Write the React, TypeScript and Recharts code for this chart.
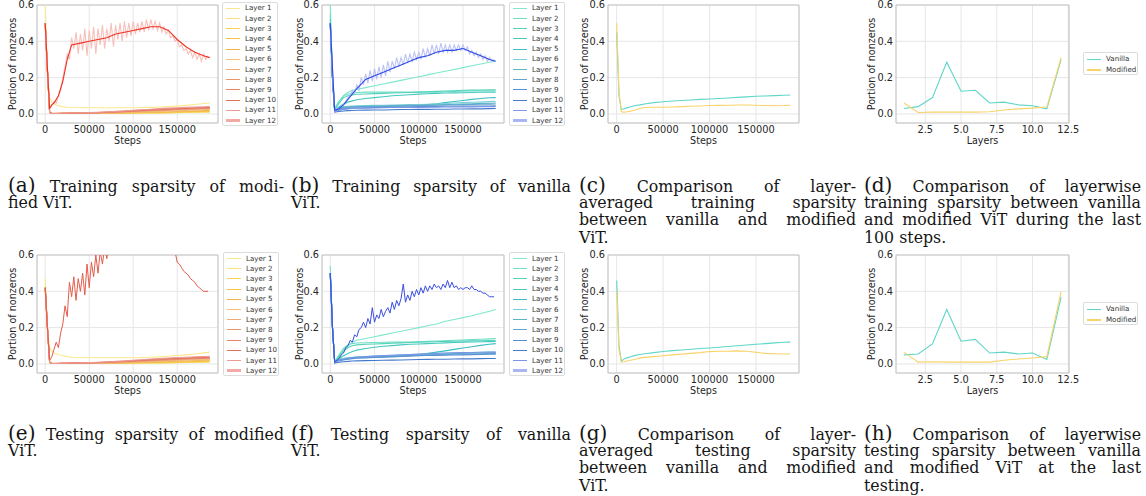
import { CartesianGrid, Line, LineChart, ReferenceArea, XAxis, YAxis } from 'recharts'

// x grids
const steps = [0, 2500, 5000, 7500, 10000, 15000, 20000, 25000, 30000, 40000, 50000, 60000, 70000, 80000, 90000, 100000, 110000, 120000, 130000, 140000, 150000, 160000, 170000, 180000, 187000]
const rawSteps = [
  0, 2500, 5000, 7500, 10000, 12500, 15000, 17500, 20000, 22500, 25000, 27500, 30000, 32500, 35000, 37500,
  40000, 42500, 45000, 47500, 50000, 52500, 55000, 57500, 60000, 62500, 65000, 67500, 70000, 72500, 75000,
  77500, 80000, 82500, 85000, 87500, 90000, 92500, 95000, 97500, 100000, 102500, 105000, 107500, 110000,
  112500, 115000, 117500, 120000, 122500, 125000, 127500, 130000, 132500, 135000, 137500, 140000, 142500,
  145000, 147500, 150000, 152500, 155000, 157500, 160000, 162500, 165000, 167500, 170000, 172500, 175000,
  177500, 180000, 182500, 185000,
]
const layerNums = [1, 2, 3, 4, 5, 6, 7, 8, 9, 10, 11, 12]
const stepTicks = [0, 50000, 100000, 150000]
const layerTicks = [2.5, 5, 7.5, 10, 12.5]
const yTicks = [0, 0.2, 0.4, 0.6]
const layerNames = ['Layer 1', 'Layer 2', 'Layer 3', 'Layer 4', 'Layer 5', 'Layer 6', 'Layer 7', 'Layer 8', 'Layer 9', 'Layer 10', 'Layer 11', 'Layer 12']

// (a) training sparsity, modified ViT — layers 1..11
const trainModified = [
  [0.62, 0.2, 0.09, 0.065, 0.055, 0.045, 0.04, 0.037, 0.035, 0.034, 0.034, 0.034, 0.034, 0.034, 0.034, 0.034, 0.035, 0.036, 0.038, 0.04, 0.043, 0.047, 0.052, 0.057, 0.06],
  [0.5, 0.24, 0.008, 0.004, 0.003, 0.003, 0.003, 0.003, 0.003, 0.003, 0.003, 0.003, 0.003, 0.004, 0.004, 0.004, 0.005, 0.005, 0.006, 0.006, 0.007, 0.008, 0.009, 0.01, 0.01],
  [0.5, 0.24, 0.008, 0.003, 0.002, 0.002, 0.002, 0.002, 0.002, 0.002, 0.003, 0.003, 0.003, 0.003, 0.004, 0.004, 0.005, 0.006, 0.006, 0.007, 0.008, 0.009, 0.01, 0.011, 0.012],
  [0.5, 0.24, 0.008, 0.003, 0.002, 0.002, 0.002, 0.002, 0.003, 0.003, 0.003, 0.004, 0.004, 0.005, 0.005, 0.006, 0.007, 0.008, 0.009, 0.01, 0.011, 0.012, 0.013, 0.014, 0.015],
  [0.5, 0.24, 0.008, 0.003, 0.002, 0.002, 0.002, 0.003, 0.003, 0.003, 0.004, 0.004, 0.005, 0.006, 0.007, 0.008, 0.009, 0.01, 0.011, 0.012, 0.014, 0.015, 0.017, 0.018, 0.02],
  [0.5, 0.24, 0.008, 0.003, 0.002, 0.002, 0.003, 0.003, 0.003, 0.004, 0.004, 0.005, 0.006, 0.007, 0.008, 0.009, 0.011, 0.012, 0.014, 0.015, 0.017, 0.019, 0.021, 0.023, 0.025],
  [0.5, 0.24, 0.008, 0.003, 0.002, 0.002, 0.003, 0.003, 0.004, 0.004, 0.005, 0.006, 0.007, 0.009, 0.01, 0.012, 0.014, 0.016, 0.018, 0.02, 0.022, 0.024, 0.026, 0.028, 0.029],
  [0.5, 0.24, 0.008, 0.003, 0.002, 0.002, 0.003, 0.003, 0.004, 0.005, 0.006, 0.007, 0.008, 0.01, 0.012, 0.014, 0.016, 0.018, 0.02, 0.022, 0.024, 0.026, 0.028, 0.03, 0.031],
  [0.5, 0.24, 0.008, 0.003, 0.002, 0.002, 0.003, 0.004, 0.004, 0.005, 0.006, 0.007, 0.009, 0.011, 0.013, 0.016, 0.019, 0.021, 0.023, 0.025, 0.027, 0.029, 0.031, 0.032, 0.033],
  [0.5, 0.24, 0.008, 0.003, 0.002, 0.003, 0.003, 0.004, 0.005, 0.006, 0.007, 0.008, 0.01, 0.012, 0.015, 0.018, 0.021, 0.024, 0.026, 0.028, 0.03, 0.032, 0.034, 0.035, 0.036],
  [0.5, 0.24, 0.008, 0.003, 0.003, 0.003, 0.004, 0.004, 0.005, 0.006, 0.007, 0.009, 0.011, 0.014, 0.017, 0.02, 0.023, 0.026, 0.029, 0.032, 0.034, 0.036, 0.038, 0.039, 0.04],
]
const trainModL12Raw = [
  0.5, 0.25, 0.03, 0.05, 0.07, 0.06, 0.1, 0.13, 0.2, 0.26, 0.33, 0.3, 0.42, 0.36, 0.45, 0.33,
  0.44, 0.35, 0.47, 0.32, 0.46, 0.36, 0.48, 0.33, 0.47, 0.38, 0.49, 0.36, 0.47, 0.4, 0.5,
  0.37, 0.49, 0.41, 0.5, 0.4, 0.51, 0.42, 0.5, 0.43, 0.51, 0.44, 0.5, 0.45, 0.51,
  0.45, 0.52, 0.46, 0.52, 0.47, 0.51, 0.46, 0.5, 0.45, 0.48, 0.44, 0.46, 0.42,
  0.43, 0.4, 0.41, 0.37, 0.38, 0.35, 0.36, 0.33, 0.35, 0.31, 0.34, 0.3, 0.33,
  0.29, 0.33, 0.3, 0.32,
]
const trainModL12Smooth = [0.5, 0.25, 0.03, 0.05, 0.06, 0.1, 0.18, 0.3, 0.38, 0.39, 0.4, 0.41, 0.42, 0.44, 0.45, 0.46, 0.47, 0.48, 0.48, 0.46, 0.41, 0.37, 0.34, 0.32, 0.31]

// (b) training sparsity, vanilla ViT — layers 1..11
const trainVanilla = [
  [0.6, 0.2, 0.03, 0.05, 0.07, 0.1, 0.12, 0.13, 0.135, 0.145, 0.155, 0.165, 0.175, 0.185, 0.195, 0.205, 0.215, 0.225, 0.235, 0.245, 0.255, 0.265, 0.275, 0.285, 0.29],
  [0.55, 0.2, 0.03, 0.05, 0.07, 0.1, 0.11, 0.115, 0.118, 0.12, 0.12, 0.12, 0.12, 0.12, 0.12, 0.12, 0.12, 0.12, 0.122, 0.124, 0.125, 0.126, 0.127, 0.128, 0.128],
  [0.52, 0.2, 0.02, 0.04, 0.06, 0.09, 0.1, 0.105, 0.108, 0.11, 0.112, 0.113, 0.115, 0.117, 0.118, 0.12, 0.122, 0.124, 0.126, 0.128, 0.13, 0.131, 0.132, 0.133, 0.133],
  [0.5, 0.2, 0.02, 0.03, 0.04, 0.055, 0.065, 0.072, 0.078, 0.085, 0.09, 0.095, 0.1, 0.103, 0.106, 0.109, 0.111, 0.113, 0.115, 0.116, 0.117, 0.118, 0.119, 0.12, 0.12],
  [0.5, 0.2, 0.02, 0.025, 0.03, 0.035, 0.038, 0.04, 0.04, 0.04, 0.04, 0.04, 0.042, 0.044, 0.046, 0.048, 0.052, 0.056, 0.062, 0.068, 0.074, 0.08, 0.085, 0.089, 0.09],
  [0.5, 0.2, 0.02, 0.03, 0.035, 0.04, 0.042, 0.044, 0.045, 0.046, 0.047, 0.048, 0.049, 0.05, 0.051, 0.052, 0.053, 0.055, 0.057, 0.06, 0.062, 0.064, 0.066, 0.068, 0.07],
  [0.5, 0.2, 0.02, 0.028, 0.032, 0.036, 0.038, 0.04, 0.041, 0.042, 0.043, 0.044, 0.045, 0.046, 0.047, 0.048, 0.049, 0.05, 0.051, 0.053, 0.055, 0.056, 0.058, 0.059, 0.06],
  [0.5, 0.2, 0.015, 0.022, 0.028, 0.033, 0.036, 0.038, 0.039, 0.04, 0.041, 0.042, 0.043, 0.044, 0.045, 0.046, 0.047, 0.048, 0.049, 0.05, 0.051, 0.052, 0.053, 0.054, 0.055],
  [0.5, 0.2, 0.015, 0.02, 0.024, 0.028, 0.03, 0.032, 0.033, 0.034, 0.035, 0.036, 0.037, 0.038, 0.039, 0.04, 0.04, 0.041, 0.042, 0.042, 0.043, 0.043, 0.044, 0.044, 0.045],
  [0.5, 0.2, 0.01, 0.012, 0.014, 0.016, 0.018, 0.019, 0.02, 0.021, 0.022, 0.022, 0.023, 0.024, 0.024, 0.025, 0.025, 0.026, 0.026, 0.027, 0.027, 0.028, 0.028, 0.029, 0.03],
  [0.5, 0.2, 0.012, 0.016, 0.02, 0.025, 0.028, 0.03, 0.031, 0.032, 0.033, 0.034, 0.035, 0.035, 0.036, 0.036, 0.037, 0.037, 0.038, 0.038, 0.039, 0.039, 0.04, 0.04, 0.04],
]
const trainVanL12Raw = [
  0.5, 0.25, 0.02, 0.03, 0.03, 0.045, 0.05, 0.07, 0.09, 0.1, 0.13, 0.11, 0.16, 0.13, 0.2, 0.16,
  0.22, 0.17, 0.24, 0.18, 0.25, 0.19, 0.26, 0.2, 0.27, 0.21, 0.29, 0.23, 0.29, 0.25, 0.31,
  0.26, 0.31, 0.27, 0.33, 0.28, 0.33, 0.29, 0.34, 0.3, 0.34, 0.3, 0.36, 0.31, 0.36,
  0.32, 0.38, 0.33, 0.38, 0.33, 0.39, 0.34, 0.38, 0.34, 0.38, 0.34, 0.38, 0.35,
  0.38, 0.35, 0.38, 0.35, 0.37, 0.33, 0.35, 0.32, 0.34, 0.31, 0.33, 0.3, 0.32,
  0.29, 0.31, 0.29, 0.3,
]
const trainVanL12Smooth = [0.5, 0.25, 0.02, 0.025, 0.03, 0.05, 0.08, 0.11, 0.14, 0.19, 0.21, 0.23, 0.25, 0.27, 0.29, 0.31, 0.32, 0.34, 0.35, 0.35, 0.36, 0.34, 0.32, 0.3, 0.29]

// (c) layer-averaged training sparsity
const trainAvgVanilla = [0.45, 0.1, 0.025, 0.027, 0.032, 0.04, 0.046, 0.05, 0.055, 0.062, 0.067, 0.071, 0.074, 0.077, 0.08, 0.082, 0.085, 0.088, 0.091, 0.094, 0.097, 0.099, 0.101, 0.103, 0.104]
const trainAvgModified = [0.5, 0.12, 0.012, 0.01, 0.011, 0.015, 0.022, 0.03, 0.035, 0.037, 0.037, 0.038, 0.04, 0.042, 0.044, 0.046, 0.047, 0.048, 0.049, 0.049, 0.048, 0.046, 0.045, 0.046, 0.048]

// (d) layerwise training sparsity, last 100 steps
const lastTrainVanilla = [0.03, 0.04, 0.09, 0.285, 0.125, 0.13, 0.06, 0.065, 0.05, 0.045, 0.028, 0.3]
const lastTrainModified = [0.06, 0.008, 0.01, 0.01, 0.01, 0.01, 0.012, 0.022, 0.028, 0.032, 0.038, 0.31]

// (e) testing sparsity, modified ViT — layers 1..11
const testModified = [
  [0.47, 0.2, 0.09, 0.07, 0.06, 0.05, 0.045, 0.04, 0.037, 0.035, 0.034, 0.034, 0.034, 0.034, 0.034, 0.034, 0.035, 0.037, 0.039, 0.042, 0.046, 0.05, 0.055, 0.061, 0.065],
  [0.42, 0.2, 0.008, 0.004, 0.003, 0.003, 0.003, 0.003, 0.003, 0.003, 0.003, 0.003, 0.003, 0.004, 0.004, 0.004, 0.005, 0.005, 0.006, 0.006, 0.007, 0.008, 0.009, 0.01, 0.01],
  [0.42, 0.2, 0.008, 0.003, 0.002, 0.002, 0.002, 0.002, 0.002, 0.002, 0.003, 0.003, 0.003, 0.003, 0.004, 0.004, 0.005, 0.006, 0.006, 0.007, 0.008, 0.009, 0.01, 0.011, 0.012],
  [0.42, 0.2, 0.008, 0.003, 0.002, 0.002, 0.002, 0.002, 0.003, 0.003, 0.003, 0.004, 0.004, 0.005, 0.005, 0.006, 0.007, 0.008, 0.009, 0.01, 0.011, 0.012, 0.013, 0.014, 0.016],
  [0.42, 0.2, 0.008, 0.003, 0.002, 0.002, 0.002, 0.003, 0.003, 0.003, 0.004, 0.004, 0.005, 0.006, 0.007, 0.008, 0.009, 0.01, 0.011, 0.013, 0.015, 0.016, 0.018, 0.02, 0.021],
  [0.42, 0.2, 0.008, 0.003, 0.002, 0.002, 0.003, 0.003, 0.003, 0.004, 0.004, 0.005, 0.006, 0.007, 0.008, 0.009, 0.011, 0.012, 0.014, 0.016, 0.018, 0.02, 0.022, 0.024, 0.025],
  [0.42, 0.2, 0.008, 0.003, 0.002, 0.002, 0.003, 0.003, 0.004, 0.004, 0.005, 0.006, 0.007, 0.009, 0.01, 0.012, 0.014, 0.016, 0.018, 0.02, 0.022, 0.024, 0.026, 0.028, 0.03],
  [0.42, 0.2, 0.008, 0.003, 0.002, 0.002, 0.003, 0.003, 0.004, 0.005, 0.006, 0.007, 0.008, 0.01, 0.012, 0.014, 0.016, 0.018, 0.02, 0.022, 0.025, 0.027, 0.029, 0.031, 0.032],
  [0.42, 0.2, 0.008, 0.003, 0.002, 0.002, 0.003, 0.004, 0.004, 0.005, 0.006, 0.007, 0.009, 0.011, 0.013, 0.016, 0.019, 0.021, 0.023, 0.026, 0.028, 0.03, 0.032, 0.033, 0.034],
  [0.42, 0.2, 0.008, 0.003, 0.002, 0.003, 0.003, 0.004, 0.005, 0.006, 0.007, 0.008, 0.01, 0.012, 0.015, 0.018, 0.021, 0.024, 0.027, 0.029, 0.031, 0.033, 0.035, 0.036, 0.037],
  [0.42, 0.2, 0.008, 0.003, 0.003, 0.003, 0.004, 0.004, 0.005, 0.006, 0.007, 0.009, 0.011, 0.014, 0.017, 0.02, 0.023, 0.027, 0.03, 0.033, 0.035, 0.037, 0.039, 0.041, 0.042],
]
const testModL12Raw = [
  0.42, 0.2, 0.02, 0.04, 0.08, 0.12, 0.09, 0.17, 0.22, 0.32, 0.26, 0.45, 0.37, 0.48, 0.35, 0.47,
  0.4, 0.5, 0.38, 0.55, 0.42, 0.56, 0.48, 0.6, 0.5, 0.62, 0.55, 0.64, 0.58, 0.66, 0.61,
  0.68, 0.63, 0.7, 0.65, 0.72, 0.67, 0.73, 0.69, 0.74, 0.7, 0.75, 0.71, 0.75, 0.72,
  0.76, 0.72, 0.75, 0.71, 0.74, 0.7, 0.72, 0.68, 0.7, 0.66, 0.67, 0.63, 0.64,
  0.6, 0.62, 0.56, 0.55, 0.53, 0.51, 0.5, 0.49, 0.47, 0.46, 0.45, 0.43, 0.42,
  0.41, 0.4, 0.4, 0.4,
]

// (f) testing sparsity, vanilla ViT — layers 1..11
const testVanilla = [
  [0.54, 0.2, 0.01, 0.03, 0.05, 0.08, 0.1, 0.12, 0.13, 0.14, 0.15, 0.16, 0.17, 0.18, 0.19, 0.2, 0.21, 0.22, 0.235, 0.245, 0.255, 0.265, 0.278, 0.29, 0.3],
  [0.5, 0.2, 0.01, 0.03, 0.05, 0.085, 0.105, 0.112, 0.115, 0.117, 0.118, 0.119, 0.12, 0.12, 0.121, 0.122, 0.124, 0.126, 0.128, 0.13, 0.132, 0.134, 0.136, 0.138, 0.14],
  [0.5, 0.2, 0.01, 0.025, 0.04, 0.07, 0.09, 0.1, 0.105, 0.108, 0.11, 0.112, 0.114, 0.116, 0.118, 0.12, 0.121, 0.122, 0.124, 0.125, 0.126, 0.127, 0.128, 0.129, 0.13],
  [0.5, 0.2, 0.01, 0.02, 0.03, 0.045, 0.058, 0.068, 0.076, 0.085, 0.092, 0.097, 0.101, 0.105, 0.108, 0.11, 0.112, 0.114, 0.116, 0.118, 0.12, 0.121, 0.122, 0.123, 0.124],
  [0.5, 0.2, 0.01, 0.02, 0.025, 0.03, 0.033, 0.035, 0.036, 0.037, 0.038, 0.04, 0.042, 0.045, 0.048, 0.052, 0.058, 0.065, 0.072, 0.08, 0.088, 0.095, 0.102, 0.108, 0.112],
  [0.5, 0.2, 0.01, 0.02, 0.025, 0.03, 0.034, 0.037, 0.039, 0.041, 0.043, 0.045, 0.047, 0.049, 0.051, 0.053, 0.055, 0.057, 0.059, 0.061, 0.062, 0.063, 0.064, 0.065, 0.066],
  [0.5, 0.2, 0.01, 0.018, 0.022, 0.027, 0.031, 0.034, 0.036, 0.038, 0.04, 0.042, 0.044, 0.046, 0.048, 0.05, 0.052, 0.054, 0.055, 0.057, 0.058, 0.059, 0.06, 0.061, 0.062],
  [0.5, 0.2, 0.01, 0.016, 0.02, 0.025, 0.029, 0.032, 0.034, 0.036, 0.038, 0.04, 0.042, 0.044, 0.046, 0.048, 0.049, 0.05, 0.052, 0.053, 0.054, 0.055, 0.056, 0.057, 0.058],
  [0.5, 0.2, 0.01, 0.015, 0.018, 0.022, 0.026, 0.029, 0.031, 0.033, 0.035, 0.037, 0.039, 0.041, 0.043, 0.045, 0.046, 0.047, 0.048, 0.049, 0.05, 0.051, 0.052, 0.053, 0.054],
  [0.5, 0.2, 0.005, 0.008, 0.01, 0.012, 0.014, 0.016, 0.017, 0.018, 0.019, 0.02, 0.021, 0.022, 0.023, 0.024, 0.025, 0.026, 0.026, 0.027, 0.028, 0.028, 0.029, 0.03, 0.03],
  [0.5, 0.2, 0.01, 0.016, 0.02, 0.026, 0.03, 0.034, 0.037, 0.04, 0.043, 0.046, 0.048, 0.05, 0.052, 0.054, 0.056, 0.058, 0.06, 0.061, 0.062, 0.063, 0.064, 0.065, 0.065],
]
const testVanL12Raw = [
  0.5, 0.2, 0.01, 0.02, 0.03, 0.05, 0.06, 0.09, 0.1, 0.13, 0.12, 0.16, 0.15, 0.19, 0.2, 0.23,
  0.2, 0.25, 0.22, 0.31, 0.23, 0.27, 0.25, 0.3, 0.26, 0.29, 0.31, 0.28, 0.34, 0.3, 0.35,
  0.32, 0.36, 0.44, 0.34, 0.38, 0.35, 0.4, 0.37, 0.41, 0.38, 0.42, 0.39, 0.43, 0.4,
  0.43, 0.41, 0.44, 0.42, 0.43, 0.41, 0.44, 0.42, 0.46, 0.42, 0.45, 0.42, 0.43,
  0.41, 0.42, 0.41, 0.42, 0.42, 0.41, 0.43, 0.41, 0.41, 0.4, 0.4, 0.39, 0.39,
  0.38, 0.37, 0.37, 0.37,
]

// (g) layer-averaged testing sparsity
const testAvgVanilla = [0.46, 0.1, 0.015, 0.025, 0.032, 0.04, 0.047, 0.052, 0.056, 0.062, 0.068, 0.073, 0.077, 0.081, 0.085, 0.088, 0.092, 0.096, 0.1, 0.104, 0.108, 0.112, 0.116, 0.119, 0.12]
const testAvgModified = [0.4, 0.08, 0.01, 0.012, 0.015, 0.02, 0.026, 0.032, 0.036, 0.04, 0.045, 0.05, 0.054, 0.058, 0.062, 0.068, 0.07, 0.07, 0.072, 0.07, 0.064, 0.058, 0.056, 0.055, 0.055]

// (h) layerwise testing sparsity, last testing
const lastTestVanilla = [0.05, 0.055, 0.11, 0.3, 0.125, 0.135, 0.06, 0.065, 0.055, 0.06, 0.025, 0.37]
const lastTestModified = [0.065, 0.01, 0.012, 0.01, 0.01, 0.01, 0.01, 0.02, 0.027, 0.033, 0.04, 0.4]

const warmColors = ['#fbe88e', '#f9e27a', '#f7d452', '#f5c445', '#f2b24a', '#f4c07a', '#efac78', '#ea9770', '#e6836a', '#e27260', '#ee9a94']
const warmLegend = [...warmColors, '#f3aaa5']
const coolColors = ['#7fe6cc', '#6fdfc4', '#52d2b9', '#45c9c0', '#3dbcc4', '#78cfd9', '#58b8c8', '#64a4cf', '#5591d4', '#4479cc', '#7c95e6']
const coolLegend = [...coolColors, '#aab5f3']
const vanillaColor = '#5fd6c8'
const modifiedColor = '#f8d36a'

const YW = 34
const MT = 6
const MR = 16
const XH = 16
const Y_DOMAIN: [number, number] = [-0.05, 0.6]
const STEP_DOMAIN: [number, number] = [-9350, 196350]
const LAYER_DOMAIN: [number, number] = [0.45, 12.55]
const tickStyle = { fontSize: 9.8, fill: '#262626', fontFamily: 'DejaVu Sans' }
const labelFont = { fontSize: 9.6, color: '#262626', fontFamily: 'DejaVu Sans' }

const zip = (xs: number[], ys: number[]) => ys.map((y, i) => ({ x: xs[i], y }))

interface Series {
  key: string
  data: { x: number; y: number }[]
  color: string
  width?: number
}

interface PanelProps {
  box: [number, number, number, number]
  labelX: number
  layers?: boolean
  series: Series[]
}

function Panel({ box, labelX, layers = false, series }: PanelProps) {
  const [x0, y0, x1, y1] = box
  const w = x1 - x0
  const h = y1 - y0
  const xDomain = layers ? LAYER_DOMAIN : STEP_DOMAIN
  return (
    <>
      <div style={{ position: 'absolute', left: x0 - YW, top: y0 - MT }}>
        <LineChart width={w + YW + MR} height={h + MT + XH} margin={{ top: MT, right: MR, left: 0, bottom: 0 }}>
          <CartesianGrid stroke="#e6e6e6" strokeWidth={1} />
          <XAxis
            type="number"
            dataKey="x"
            domain={xDomain}
            ticks={layers ? layerTicks : stepTicks}
            allowDataOverflow
            interval={0}
            height={XH}
            tickSize={0}
            tickMargin={3}
            axisLine={false}
            tick={tickStyle}
            tickFormatter={(v: number) => (layers ? v.toFixed(1) : String(v))}
          />
          <YAxis
            type="number"
            domain={Y_DOMAIN}
            ticks={yTicks}
            allowDataOverflow
            interval={0}
            width={YW}
            tickSize={0}
            tickMargin={3}
            axisLine={false}
            tick={tickStyle}
            tickFormatter={(v: number) => v.toFixed(1)}
          />
          {series.map((s) => (
            <Line
              key={s.key}
              data={s.data}
              dataKey="y"
              type="linear"
              stroke={s.color}
              strokeWidth={s.width ?? 1.1}
              dot={false}
              activeDot={false}
              isAnimationActive={false}
            />
          ))}
          <ReferenceArea
            x1={xDomain[0]}
            x2={xDomain[1]}
            y1={Y_DOMAIN[0]}
            y2={Y_DOMAIN[1]}
            fill="none"
            fillOpacity={0}
            stroke="#c4c4c4"
            strokeWidth={1}
            ifOverflow="visible"
          />
        </LineChart>
      </div>
      <div
        style={{
          ...labelFont,
          position: 'absolute',
          left: labelX - 70,
          top: (y0 + y1) / 2 - 6,
          width: 140,
          height: 12,
          lineHeight: '12px',
          textAlign: 'center',
          transform: 'rotate(-90deg)',
          whiteSpace: 'nowrap',
        }}
      >
        Portion of nonzeros
      </div>
      <div
        style={{
          ...labelFont,
          position: 'absolute',
          left: (x0 + x1) / 2 - 40,
          top: y1 + 12.5,
          width: 80,
          height: 10,
          lineHeight: '10px',
          textAlign: 'center',
        }}
      >
        {layers ? 'Layers' : 'Steps'}
      </div>
    </>
  )
}

interface LegendProps {
  left: number
  top: number
  width: number
  height: number
  names: string[]
  colors: string[]
  thickLast?: boolean
  gap: number
  firstY: number
}

function LegendBox({ left, top, width, height, names, colors, thickLast = false, gap, firstY }: LegendProps) {
  return (
    <div
      style={{
        position: 'absolute',
        left,
        top,
        width,
        height,
        boxSizing: 'border-box',
        border: '1px solid #dcdcdc',
        borderRadius: 2,
        background: '#fff',
      }}
    >
      {names.map((n, i) => {
        const thick = thickLast && i === names.length - 1
        return (
          <div key={n}>
            <div
              style={{
                position: 'absolute',
                left: 3,
                top: firstY + i * gap - (thick ? 1.5 : 0.6),
                width: 14,
                height: thick ? 3 : 1.2,
                background: colors[i],
              }}
            />
            <div
              style={{
                position: 'absolute',
                left: 22,
                top: firstY + i * gap - 5,
                height: 10,
                lineHeight: '10px',
                fontSize: 7.1,
                fontFamily: 'DejaVu Sans',
                color: '#333',
                whiteSpace: 'nowrap',
              }}
            >
              {n}
            </div>
          </div>
        )
      })}
    </div>
  )
}

interface CaptionProps {
  left: number
  top: number
  width: number
  label: string
  lines: string[]
}

const LINE_GAP = 17.6

function Caption({ left, top, width, label, lines }: CaptionProps) {
  return (
    <div
      style={{
        position: 'absolute',
        left,
        top,
        width,
        fontFamily: '"DejaVu Serif", serif',
        fontSize: 15.8,
        color: '#151515',
      }}
    >
      {lines.map((ln, i) => (
        <div
          key={i}
          style={{
            position: 'absolute',
            left: 0,
            top: i * LINE_GAP,
            width,
            height: 18,
            lineHeight: '18px',
            textAlign: 'justify',
            textAlignLast: i < lines.length - 1 ? 'justify' : 'left',
          }}
        >
          {i === 0 ? (
            <>
              <span
                style={{
                  display: 'inline-block',
                  height: 18,
                  fontSize: 20,
                  lineHeight: '18px',
                  verticalAlign: 'baseline',
                }}
              >
                {label}
              </span>{' '}
              {ln}
            </>
          ) : (
            ln
          )}
        </div>
      ))}
    </div>
  )
}

const layerSeries = (rows: number[][], colors: string[], prefix: string): Series[] =>
  rows.map((r, i) => ({ key: `${prefix}${i}`, data: zip(steps, r), color: colors[i] }))

export default function App() {
  return (
    <div style={{ position: 'absolute', left: 0, top: 0, width: 1146, height: 496, background: '#fff', overflow: 'hidden' }}>
      <Panel
        box={[37, 5, 218, 123]}
        labelX={12.5}
        series={[
          ...layerSeries(trainModified, warmColors, 'a'),
          { key: 'a12r', data: zip(rawSteps, trainModL12Raw), color: '#f7c0bb', width: 1.1 },
          { key: 'a12s', data: zip(steps, trainModL12Smooth), color: '#ee3325', width: 1.1 },
        ]}
      />
      <LegendBox left={222} top={2} width={56} height={124} names={layerNames} colors={warmLegend} thickLast gap={10.2} firstY={5.3} />

      <Panel
        box={[322, 5, 504, 123]}
        labelX={300}
        series={[
          ...layerSeries(trainVanilla, coolColors, 'b'),
          { key: 'b12r', data: zip(rawSteps, trainVanL12Raw), color: '#bcc2f5', width: 1.1 },
          { key: 'b12s', data: zip(steps, trainVanL12Smooth), color: '#2c48e6', width: 1.1 },
        ]}
      />
      <LegendBox left={509} top={2} width={56} height={124} names={layerNames} colors={coolLegend} thickLast gap={10.2} firstY={5.3} />

      <Panel
        box={[608, 5, 799, 123]}
        labelX={585}
        series={[
          { key: 'cv', data: zip(steps, trainAvgVanilla), color: vanillaColor },
          { key: 'cm', data: zip(steps, trainAvgModified), color: modifiedColor },
        ]}
      />

      <Panel
        box={[896, 5, 1069, 123]}
        labelX={872}
        layers
        series={[
          { key: 'dv', data: zip(layerNums, lastTrainVanilla), color: vanillaColor },
          { key: 'dm', data: zip(layerNums, lastTrainModified), color: modifiedColor },
        ]}
      />
      <LegendBox left={1083} top={52} width={55} height={23} names={['Vanilla', 'Modified']} colors={[vanillaColor, modifiedColor]} gap={10.7} firstY={6.3} />

      <Panel
        box={[37, 255, 218, 373]}
        labelX={12.5}
        series={[
          ...layerSeries(testModified, warmColors, 'e'),
          { key: 'e12r', data: zip(rawSteps, testModL12Raw), color: '#e45c4c', width: 1 },
        ]}
      />
      <LegendBox left={223} top={252} width={56} height={124} names={layerNames} colors={warmLegend} thickLast gap={10.2} firstY={5.5} />

      <Panel
        box={[322, 255, 504, 373]}
        labelX={300}
        series={[
          ...layerSeries(testVanilla, coolColors, 'f'),
          { key: 'f12r', data: zip(rawSteps, testVanL12Raw), color: '#3a4ee2', width: 1 },
        ]}
      />
      <LegendBox left={509} top={252} width={56} height={124} names={layerNames} colors={coolLegend} thickLast gap={10.2} firstY={5.5} />

      <Panel
        box={[608, 255, 799, 373]}
        labelX={585}
        series={[
          { key: 'gv', data: zip(steps, testAvgVanilla), color: vanillaColor },
          { key: 'gm', data: zip(steps, testAvgModified), color: modifiedColor },
        ]}
      />

      <Panel
        box={[896, 255, 1069, 373]}
        labelX={872}
        layers
        series={[
          { key: 'hv', data: zip(layerNums, lastTestVanilla), color: vanillaColor },
          { key: 'hm', data: zip(layerNums, lastTestModified), color: modifiedColor },
        ]}
      />
      <LegendBox left={1083} top={302} width={55} height={23} names={['Vanilla', 'Modified']} colors={[vanillaColor, modifiedColor]} gap={10.7} firstY={6.3} />

      <Caption left={8} top={176} width={276} label="(a)" lines={['Training sparsity of modi-', 'fied ViT.']} />
      <Caption left={291} top={176} width={280} label="(b)" lines={['Training sparsity of vanilla', 'ViT.']} />
      <Caption left={579} top={176} width={277} label="(c)" lines={['Comparison of layer-', 'averaged training sparsity', 'between vanilla and modified', 'ViT.']} />
      <Caption left={864} top={176} width={277} label="(d)" lines={['Comparison of layerwise', 'training sparsity between vanilla', 'and modified ViT during the last', '100 steps.']} />
      <Caption left={8} top={424} width={276} label="(e)" lines={['Testing sparsity of modified', 'ViT.']} />
      <Caption left={291} top={424} width={280} label="(f)" lines={['Testing sparsity of vanilla', 'ViT.']} />
      <Caption left={579} top={424} width={277} label="(g)" lines={['Comparison of layer-', 'averaged testing sparsity', 'between vanilla and modified', 'ViT.']} />
      <Caption left={864} top={424} width={277} label="(h)" lines={['Comparison of layerwise', 'testing sparsity between vanilla', 'and modified ViT at the last', 'testing.']} />
    </div>
  )
}
